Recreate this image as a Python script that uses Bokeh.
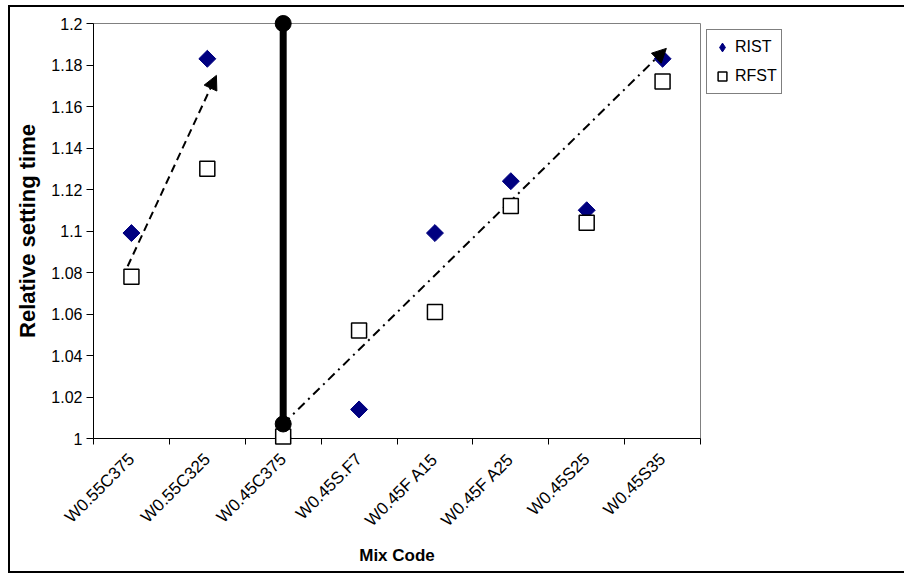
import numpy as np
from bokeh.plotting import figure
from bokeh.models import (Range1d, FixedTicker, CustomJSTickFormatter, Legend,
                          LegendItem, Arrow, NormalHead, ColumnDataSource)
from bokeh.embed import file_html
from bokeh.resources import INLINE

# ---- data ----
categories = ["W0.55C375", "W0.55C325", "W0.45C375", "W0.45S.F7",
              "W0.45F A15", "W0.45F A25", "W0.45S25", "W0.45S35"]
rist = [1.099, 1.183, 1.000, 1.014, 1.099, 1.124, 1.110, 1.183]
rfst = [1.078, 1.130, 1.001, 1.052, 1.061, 1.112, 1.104, 1.172]
y_ticks = [1.00, 1.02, 1.04, 1.06, 1.08, 1.10, 1.12, 1.14, 1.16, 1.18, 1.20]

# annotations (x in category index units, y in data units)
divider_index = 2            # W0.45C375
divider_y = [1.2, 1.007]
trend1_x = [0.45, 1.62]
trend1_y = [1.083, 1.175]
trend2_x = [2.5, 7.55]
trend2_y = [1.007, 1.188]

n = len(categories)
xc = [i + 0.5 for i in range(n)]
src = ColumnDataSource(dict(x=xc, rist=rist, rfst=rfst))

p = figure(frame_width=607, frame_height=415,
           x_range=Range1d(0, n), y_range=Range1d(1.0, 1.2),
           output_backend="svg", toolbar_location=None,
           min_border_left=83, min_border_right=190,
           min_border_top=16, min_border_bottom=133,
           background_fill_color="white", border_fill_color="white")
p.margin = (5, 0, 0, 8)
p.styles = {"border": "2px solid black"}

p.xgrid.visible = False
p.ygrid.visible = False
p.outline_line_color = "#808080"
p.outline_line_width = 1

FONT = "Liberation Sans"

# x axis
xa = p.xaxis[0]
xa.ticker = FixedTicker(ticks=xc, minor_ticks=list(range(n + 1)))
xa.formatter = CustomJSTickFormatter(args=dict(labels=categories),
                                     code="return labels[Math.floor(tick)];")
xa.major_tick_out = 0
xa.major_tick_in = 0
xa.minor_tick_out = 6
xa.minor_tick_in = 0
xa.minor_tick_line_color = "black"
xa.major_label_orientation = np.pi / 4
xa.major_label_standoff = 12
xa.major_label_text_font = FONT
xa.major_label_text_font_size = "17px"
xa.major_label_text_color = "black"
xa.axis_label = "Mix Code"
xa.axis_label_standoff = 6
xa.axis_label_text_font = FONT
xa.axis_label_text_font_style = "bold"
xa.axis_label_text_font_size = "17px"
xa.axis_label_text_color = "black"
xa.axis_line_color = "black"

# y axis
ya = p.yaxis[0]
ya.ticker = FixedTicker(ticks=y_ticks, minor_ticks=[])
ya.formatter = CustomJSTickFormatter(code="return tick.toFixed(2).replace(/\\.?0+$/, '');")
ya.major_tick_out = 7
ya.major_tick_in = 0
ya.major_tick_line_color = "black"
ya.major_label_standoff = 4
ya.major_label_text_font = FONT
ya.major_label_text_font_size = "16px"
ya.major_label_text_color = "black"
ya.axis_label = "Relative setting time"
ya.axis_label_standoff = 8
ya.axis_label_text_font = FONT
ya.axis_label_text_font_style = "bold"
ya.axis_label_text_font_size = "22px"
ya.axis_label_text_color = "black"
ya.axis_line_color = "black"

# markers: diamond key glyph (hidden beneath the rotated squares, used for legend)
r1_key = p.scatter("x", "rist", source=src, marker="diamond", size=11,
                   fill_color="#000080", line_color="#000080")
r1 = p.scatter("x", "rist", source=src, marker="square", angle=np.pi / 4,
               size=12, fill_color="#000080", line_color="#000080")
r2 = p.scatter("x", "rfst", source=src, marker="square", size=15,
               fill_color="white", line_color="black", line_width=1.5,
               level="overlay")

# thick divider with round ends
dx = [xc[divider_index], xc[divider_index]]
p.line(dx, divider_y, line_width=7, line_color="black", level="overlay")
p.scatter(dx, divider_y, marker="circle", size=16, fill_color="black",
          line_color="black", level="overlay")

# trend arrows
p.add_layout(Arrow(end=NormalHead(size=14, fill_color="black", line_color="black"),
                   x_start=trend1_x[0], y_start=trend1_y[0],
                   x_end=trend1_x[1], y_end=trend1_y[1],
                   line_width=2, line_dash="8 5", line_color="black"))
p.add_layout(Arrow(end=NormalHead(size=14, fill_color="black", line_color="black"),
                   x_start=trend2_x[0], y_start=trend2_y[0],
                   x_end=trend2_x[1], y_end=trend2_y[1],
                   line_width=2, line_dash="9 5 2 5", line_color="black"))

legend = Legend(items=[LegendItem(label="RIST", renderers=[r1_key]),
                       LegendItem(label="RFST", renderers=[r2])],
                location="top_left")
legend.label_text_font = FONT
legend.label_text_font_size = "16px"
legend.label_text_color = "black"
legend.border_line_color = "black"
legend.border_line_width = 1
legend.padding = 4
legend.spacing = 3
legend.margin = 6
legend.glyph_width = 22
legend.glyph_height = 26
legend.label_height = 26
legend.label_standoff = 2
p.add_layout(legend, "right")

open("out.html", "w").write(file_html(p, INLINE))
